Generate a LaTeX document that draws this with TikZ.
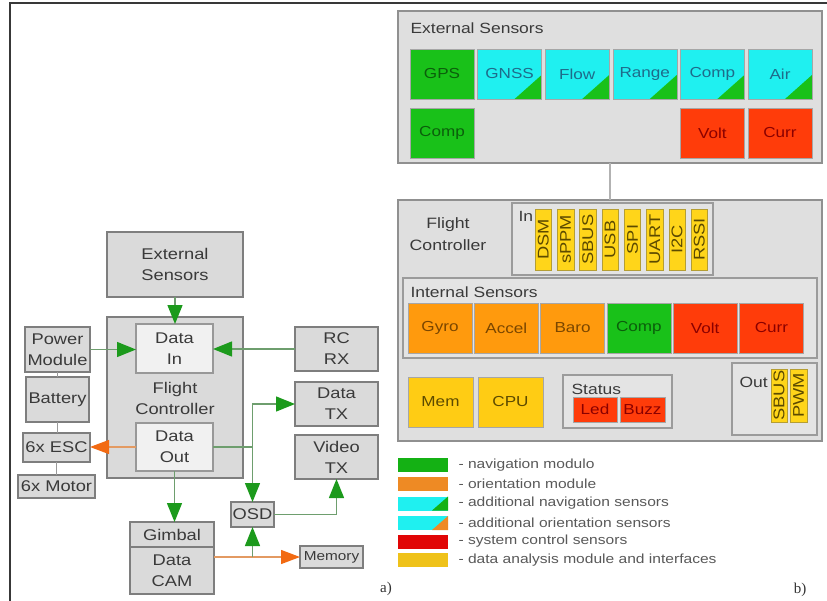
\documentclass[tikz,border=0pt]{standalone}
\usepackage{fontspec}
\setmainfont{Liberation Sans}[FakeStretch=1.18]
\newfontfamily\captionserif{Liberation Serif}
\usetikzlibrary{arrows.meta}

% block diagram greys
\definecolor{blkfill}{HTML}{DADADA}
\definecolor{blkline}{HTML}{7E7E7E}
\definecolor{subfill}{HTML}{F1F1F1}
\definecolor{txt}{HTML}{3A3A3A}
\definecolor{gline}{HTML}{6E9E6E}
\definecolor{ghead}{HTML}{1C9A1C}
\definecolor{oline}{HTML}{E39A62}
\definecolor{ohead}{HTML}{F26A12}
\definecolor{linkgray}{HTML}{9A9A9A}
% module colours
\definecolor{pnlfill}{HTML}{DFDFDF}
\definecolor{pnlline}{HTML}{909090}
\definecolor{cNav}{HTML}{19C119}
\definecolor{cNavTxt}{HTML}{0B5E0B}
\definecolor{cCyan}{HTML}{1FF0F0}
\definecolor{cCyanTxt}{HTML}{1E6B8A}
\definecolor{cOri}{HTML}{FF9A0D}
\definecolor{cOriTxt}{HTML}{7A4600}
\definecolor{cSys}{HTML}{FF3C0A}
\definecolor{cSysTxt}{HTML}{8A0000}
\definecolor{cDat}{HTML}{FFCC14}
\definecolor{cDatTxt}{HTML}{5C4A00}
\definecolor{cTab}{HTML}{FFD51A}
\definecolor{cTabLine}{HTML}{B59E33}
\definecolor{lgNav}{HTML}{14B114}
\definecolor{lgOri}{HTML}{EE8A24}
\definecolor{lgSys}{HTML}{E10505}
\definecolor{lgDat}{HTML}{EFC21A}

\begin{document}
\begin{tikzpicture}[x=1pt,y=-1pt,
  blk/.style={draw=blkline, fill=blkfill, line width=1.4pt, outer sep=0pt, inner sep=1pt,
    text=txt, align=center, anchor=north west, font=\fontsize{15.5}{21}\selectfont},
  sub/.style={blk, fill=subfill, draw=blkline!80},
  garrow/.style={draw=gline, line width=1.3pt, -{Triangle[length=19pt,width=15pt,color=ghead]}},
  oarrow/.style={draw=oline, line width=1.3pt, -{Triangle[length=19pt,width=14pt,color=ohead]}},
  gwire/.style={draw=gline, line width=1.3pt},
  link/.style={draw=linkgray, line width=1.2pt},
  panel/.style={draw=pnlline, fill=pnlfill, line width=1.3pt, anchor=north west, outer sep=0pt, inner sep=0pt},
  inner/.style={panel, fill=pnlfill!85!white, draw=pnlline!90, line width=1.1pt},
  ttl/.style={anchor=base west, text=txt, font=\fontsize{14.8}{17}\selectfont},
  tile/.style={draw=black!35, line width=0.5pt, anchor=north west, minimum width=64pt,
    minimum height=50pt, inner sep=0pt, outer sep=0pt, font=\fontsize{14.5}{17}\selectfont},
  nav/.style={tile, fill=cNav, text=cNavTxt},
  ori/.style={tile, fill=cOri, text=cOriTxt},
  sys/.style={tile, fill=cSys, text=cSysTxt},
  dat/.style={tile, fill=cDat, text=cDatTxt},
  addnav/.style={tile, fill=cCyan, text=cCyanTxt,
    path picture={\fill[cNav] (path picture bounding box.south east) -- ++(-27pt,0pt) -- ++(27pt,24pt) -- cycle;}},
  tab/.style={draw=cTabLine, fill=cTab, text=cDatTxt, line width=0.5pt, rotate=90,
    minimum width=61pt, minimum height=16.5pt, inner sep=0pt, outer sep=0pt,
    font=\fontsize{15.5}{16}\selectfont},
  swatch/.style={anchor=north west, minimum width=50pt, minimum height=14pt, inner sep=0pt, outer sep=0pt},
  lgtxt/.style={anchor=west, text=black!65, font=\fontsize{13.2}{15}\selectfont},
  caption/.style={anchor=base, text=black!80, font=\captionserif\fontsize{15}{18}\selectfont}
]

\useasboundingbox (0,0) rectangle (827,600);
\fill[white] (0,0) rectangle (827,600);
% outer frame
\draw[line width=2pt, draw=black!78] (10,612) -- (10,3) -- (840,3);

% ---------------- a) hardware structure ----------------
\node[blk, minimum width=136pt, minimum height=65pt] (extS) at (107,232) {External\\Sensors};
\node[blk, minimum width=136pt, minimum height=161pt] (fc) at (107,317) {};
\node[sub, minimum width=77pt, minimum height=49pt] (din) at (136,324) {Data\\In};
\node[sub, minimum width=77pt, minimum height=48pt] (dout) at (136,423) {Data\\Out};
\node[align=center, text=txt, font=\fontsize{15.5}{21}\selectfont] (fctext) at (175,398) {Flight\\Controller};

\node[blk, minimum width=65pt, minimum height=45pt] (pm) at (25,327) {Power\\Module};
\node[blk, minimum width=63pt, minimum height=45pt] (bat) at (26,377) {Battery};
\node[blk, minimum width=67pt, minimum height=29pt] (esc) at (23,433) {6x ESC};
\node[blk, minimum width=77pt, minimum height=23pt] (mot) at (18,475) {6x Motor};

\node[blk, minimum width=83pt, minimum height=44pt] (rcrx) at (295,327) {RC\\RX};
\node[blk, minimum width=83pt, minimum height=44pt] (dtx) at (295,382) {Data\\TX};
\node[blk, minimum width=83pt, minimum height=44pt] (vtx) at (295,435) {Video\\TX};

\node[blk, minimum width=43pt, minimum height=25pt] (osd) at (231,502) {OSD};
\node[blk, minimum width=84pt, minimum height=25pt] (gimbal) at (130,522) {Gimbal};
\node[blk, minimum width=84pt, minimum height=47pt] (dcam) at (130,547) {Data\\CAM};
\node[blk, minimum width=63pt, minimum height=22pt, font=\fontsize{13}{15}\selectfont] (mem) at (300,546) {Memory};

% power chain
\draw[link] (pm.south) -- (pm.south |- bat.north);
\draw[link] (bat.south) -- (bat.south |- esc.north);
\draw[link] (esc.south) -- (esc.south |- mot.north);

% data flow
\coordinate (j1) at (dout.east -| osd.north);
\coordinate (j2) at (mem.west -| osd.south);
\draw[garrow] (extS.south) -- (extS.south |- din.north);
\draw[garrow] (pm.east) -- (pm.east -| din.west);
\draw[garrow] (rcrx.west) -- (rcrx.west -| din.east);
\draw[oarrow] (dout.west) -- (dout.west -| esc.east);
\draw[gwire] (dout.east) -- (j1);
\draw[garrow] (j1) |- (dtx.west);
\draw[garrow] (j1) -- (osd.north);
\draw[garrow] (osd.east) -| (vtx.south);
\draw[garrow] (dout.south) -- (dout.south |- gimbal.north);
\draw[oarrow] (dcam.east |- mem.west) -- (mem.west);
\draw[garrow] (j2) -- (osd.south);

\node[caption] (capa) at (386,592) {a)};

% ---------------- b) module structure ----------------
\node[panel, minimum width=424pt, minimum height=152pt] (extP) at (398,11) {};
\node[ttl] (extT) at (407,33) {External Sensors};
\node[nav]    (gps)   at (410,49)    {GPS};
\node[addnav] (gnss)  at (477.6,49)  {GNSS};
\node[addnav] (flow)  at (545.2,49)  {Flow};
\node[addnav] (range) at (612.8,49)  {Range};
\node[addnav] (ecomp) at (680.4,49)  {Comp};
\node[addnav] (air)   at (748,49)    {Air};
\node[nav]    (gcomp) at (410,108)   {Comp};
\node[sys]    (evolt) at (680.4,108) {Volt};
\node[sys]    (ecurr) at (748,108)   {Curr};

\node[panel, minimum width=424pt, minimum height=241pt] (fcP) at (398,200) {};
\draw[link, draw=black!30] (extP.south) -- (fcP.north);
\node[align=center, text=txt, font=\fontsize{15}{22}\selectfont] (fcT) at (448,234) {Flight\\Controller};

\node[inner, minimum width=201pt, minimum height=72pt] (inP) at (512,203) {};
\node[ttl] (inT) at (515,221) {In};
\foreach \lbl [count=\k from 0] in {DSM,sPPM,SBUS,USB,SPI,UART,I2C,RSSI}
  \node[tab] (in\k) at (543.25+22.3*\k,239.5) {\lbl};

\node[inner, minimum width=414pt, minimum height=80pt] (intP) at (403,278) {};
\node[ttl] (intT) at (407,297) {Internal Sensors};
\node[ori] (gyro)  at (408,303)   {Gyro};
\node[ori] (accel) at (474.3,303) {Accel};
\node[ori] (baro)  at (540.6,303) {Baro};
\node[nav] (icomp) at (606.9,303) {Comp};
\node[sys] (ivolt) at (673.2,303) {Volt};
\node[sys] (icurr) at (739.5,303) {Curr};

\node[dat, minimum width=65pt] (memb) at (408,377) {Mem};
\node[dat, minimum width=65pt] (cpu)  at (478,377) {CPU};

\node[inner, minimum width=109pt, minimum height=53pt] (stP) at (563,375) {};
\node[ttl] (stT) at (568,394) {Status};
\node[sys, minimum width=44pt, minimum height=25pt] (led)  at (573,397) {Led};
\node[sys, minimum width=45pt, minimum height=25pt] (buzz) at (620,397) {Buzz};

\node[inner, minimum width=85pt, minimum height=72pt] (outP) at (732,363) {};
\node[ttl] (outT) at (736,387) {Out};
\node[tab, minimum width=53pt, minimum height=16pt] (o1) at (779,395.5) {SBUS};
\node[tab, minimum width=53pt, minimum height=17pt] (o2) at (798.5,395.5) {PWM};

% legend
\node[swatch, fill=lgNav] (lg1) at (398,458) {};
\node[swatch, fill=lgOri] (lg2) at (398,477) {};
\node[swatch, fill=cCyan, path picture={\fill[lgNav] (path picture bounding box.south east) -- ++(-16pt,0pt) -- ++(16pt,14pt) -- cycle;}] (lg3) at (398,496.5) {};
\node[swatch, fill=cCyan, path picture={\fill[lgOri] (path picture bounding box.south east) -- ++(-16pt,0pt) -- ++(16pt,14pt) -- cycle;}] (lg4) at (398,516) {};
\node[swatch, fill=lgSys] (lg5) at (398,534.5) {};
\node[swatch, fill=lgDat] (lg6) at (398,553) {};
\node[lgtxt] (t1) at (455,465)   {- navigation modulo};
\node[lgtxt] (t2) at (455,484)   {- orientation module};
\node[lgtxt] (t3) at (455,503.5) {- additional navigation sensors};
\node[lgtxt] (t4) at (455,523)   {- additional orientation sensors};
\node[lgtxt] (t5) at (455,541.5) {- system control sensors};
\node[lgtxt] (t6) at (455,560)   {- data analysis module and interfaces};

\node[caption] (capb) at (800,593) {b)};
\end{tikzpicture}
\end{document}
